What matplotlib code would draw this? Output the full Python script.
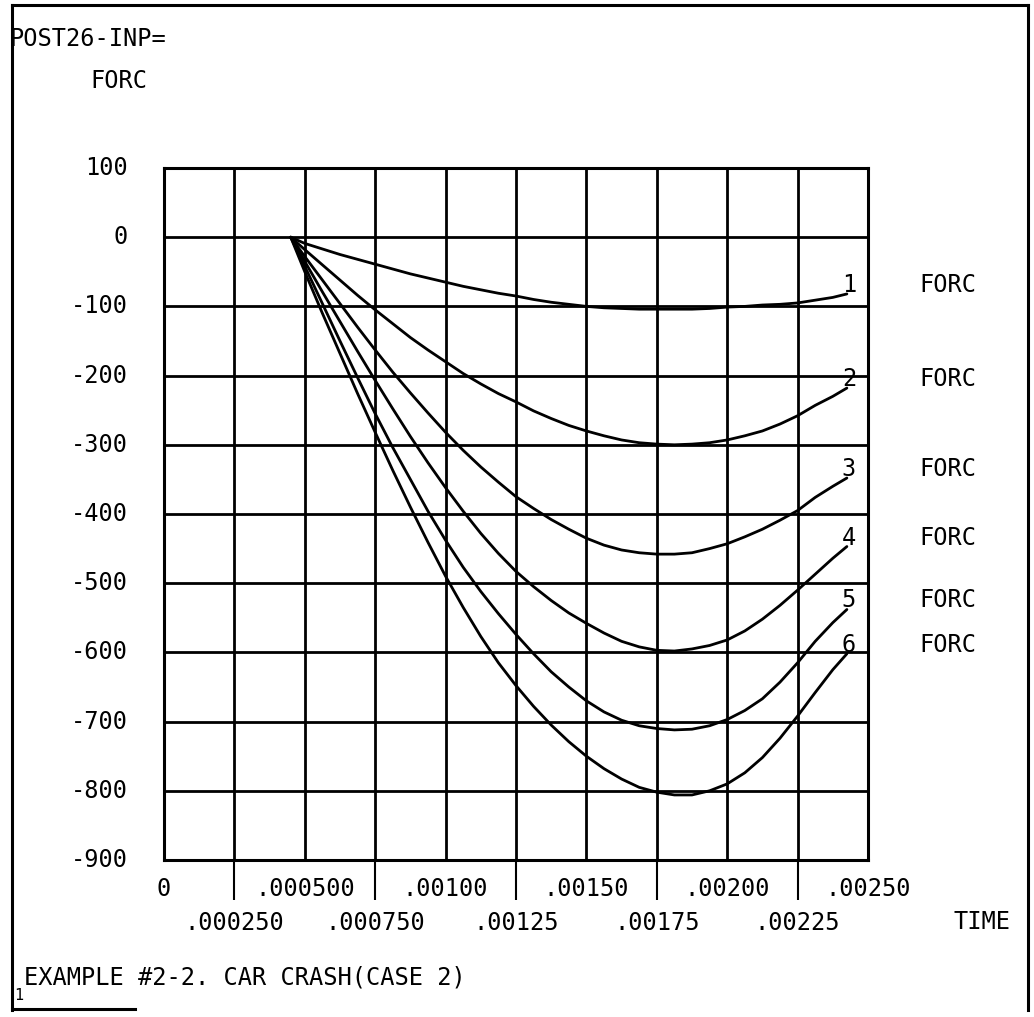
import matplotlib
matplotlib.use("Agg")
import matplotlib.pyplot as plt
from matplotlib.lines import Line2D

# ---- data -------------------------------------------------------------
time = [0.00045, 0.0005, 0.0005625, 0.000625, 0.0006875, 0.00075, 0.0008125, 0.000875,
        0.0009375, 0.001, 0.0010625, 0.001125, 0.0011875, 0.00125, 0.0013125, 0.001375,
        0.0014375, 0.0015, 0.0015625, 0.001625, 0.0016875, 0.00175, 0.0018125, 0.001875,
        0.0019375, 0.002, 0.0020625, 0.002125, 0.0021875, 0.00225, 0.0023125, 0.002375,
        0.002425]

forc1 = [0, -9, -17, -25, -32, -39, -46, -53, -59, -65, -71, -76, -81, -85, -90, -94,
         -97, -100, -102, -103, -104, -104, -104, -104, -103, -101, -100, -98, -97, -95,
         -91, -87, -82]
forc2 = [0, -18, -40, -62, -84, -105, -125, -145, -163, -180, -197, -212, -226, -238, -251,
         -262, -272, -280, -287, -293, -297, -299, -300, -299, -297, -293, -287, -280, -270,
         -258, -243, -230, -218]
forc3 = [0, -28, -62, -96, -130, -163, -195, -225, -254, -282, -308, -332, -354, -375, -392,
         -408, -422, -435, -445, -452, -456, -458, -458, -456, -450, -443, -433, -422, -409,
         -395, -376, -360, -348]
forc4 = [0, -35, -79, -122, -165, -207, -248, -288, -326, -362, -396, -428, -457, -483, -505,
         -525, -543, -558, -572, -584, -592, -597, -598, -595, -590, -582, -569, -552, -532,
         -510, -487, -464, -447]
forc5 = [0, -42, -96, -150, -203, -255, -304, -350, -396, -438, -477, -512, -544, -574, -602,
         -628, -650, -670, -686, -698, -706, -710, -712, -711, -706, -697, -684, -667, -643,
         -615, -584, -557, -538]
forc6 = [0, -50, -110, -168, -226, -282, -337, -390, -441, -490, -535, -577, -615, -648, -678,
         -705, -729, -750, -768, -783, -795, -802, -806, -806, -800, -790, -774, -752, -724,
         -692, -658, -625, -602]
series = [forc1, forc2, forc3, forc4, forc5, forc6]
curve_labels = ["1", "2", "3", "4", "5", "6"]

x_major = [0, 0.0005, 0.001, 0.0015, 0.002, 0.0025]
x_major_labels = ["0", ".000500", ".00100", ".00150", ".00200", ".00250"]
x_minor = [0.00025, 0.00075, 0.00125, 0.00175, 0.00225]
x_minor_labels = [".000250", ".000750", ".00125", ".00175", ".00225"]
y_ticks = [100, 0, -100, -200, -300, -400, -500, -600, -700, -800, -900]
y_labels = ["100", "0", "-100", "-200", "-300", "-400", "-500", "-600", "-700", "-800", "-900"]

# ---- figure -----------------------------------------------------------
W, H = 1034, 1017
FONT = "DejaVu Sans Mono"
FS = 17
plt.rcParams["font.family"] = [FONT, "DejaVu Sans"]
plt.rcParams["font.size"] = FS

fig = plt.figure(figsize=(W / 100, H / 100), dpi=100)
fig.patch.set_facecolor("white")

def fx(px):
    return px / W

def fy(py):
    return 1 - py / H

L, R, T, B = 164, 868, 168, 860
ax = fig.add_axes([fx(L), fy(B), fx(R) - fx(L), fy(T) - fy(B)])

for s in series:
    ax.plot(time, s, color="black", lw=2.0, solid_capstyle="round",
            solid_joinstyle="round", zorder=3)

ax.set_xlim(0, 0.0025)
ax.set_ylim(-900, 100)

ax.set_xticks(x_major)
ax.set_xticklabels(x_major_labels)
ax.set_xticks(x_minor, minor=True)
ax.set_xticklabels(x_minor_labels, minor=True)
ax.set_yticks(y_ticks)
ax.set_yticklabels(y_labels)

ax.grid(True, which="both", axis="x", color="black", lw=2.0)
ax.grid(True, which="major", axis="y", color="black", lw=2.0)
ax.set_axisbelow(True)

ax.tick_params(axis="x", which="major", length=0, pad=12)
ax.tick_params(axis="x", which="minor", length=29, width=1.5, direction="out",
               color="black", pad=8)
ax.tick_params(axis="y", which="both", length=0, pad=26)
for lab in ax.get_yticklabels():
    lab.set_verticalalignment("center")
for sp in ax.spines.values():
    sp.set_linewidth(2.2)
    sp.set_color("black")

# curve number labels and FORC labels
for s, lab in zip(series, curve_labels):
    ax.annotate(lab, xy=(time[-1], s[-1]), xytext=(2, 9), textcoords="offset pixels",
                ha="center", va="center", fontsize=FS)
    ax.annotate("FORC", xy=(time[-1], s[-1]), xytext=(101, 9), textcoords="offset pixels",
                ha="center", va="center", fontsize=FS, annotation_clip=False)

# header / footer texts
fig.text(fx(10), fy(39), "POST26-INP=", ha="left", va="center", fontsize=FS)
fig.text(fx(90), fy(81), "FORC", ha="left", va="center", fontsize=FS)
fig.text(fx(982), fy(922), "TIME", ha="center", va="center", fontsize=FS)
fig.text(fx(14), fy(996), "1", ha="left", va="center", fontsize=11)
fig.text(fx(24), fy(978), "EXAMPLE #2-2. CAR CRASH(CASE 2)", ha="left", va="center", fontsize=FS)

# outer frame
frame_kw = dict(color="black", lw=2.2, transform=fig.transFigure)
fig.add_artist(Line2D([fx(12), fx(12)], [fy(5), fy(1010)], **frame_kw))
fig.add_artist(Line2D([fx(12), fx(1028)], [fy(5), fy(5)], **frame_kw))
fig.add_artist(Line2D([fx(1028), fx(1028)], [fy(5), fy(1010)], **frame_kw))
fig.add_artist(Line2D([fx(12), fx(135)], [fy(1009), fy(1009)], **frame_kw))

fig.savefig("out.png", dpi=100, facecolor="white")
